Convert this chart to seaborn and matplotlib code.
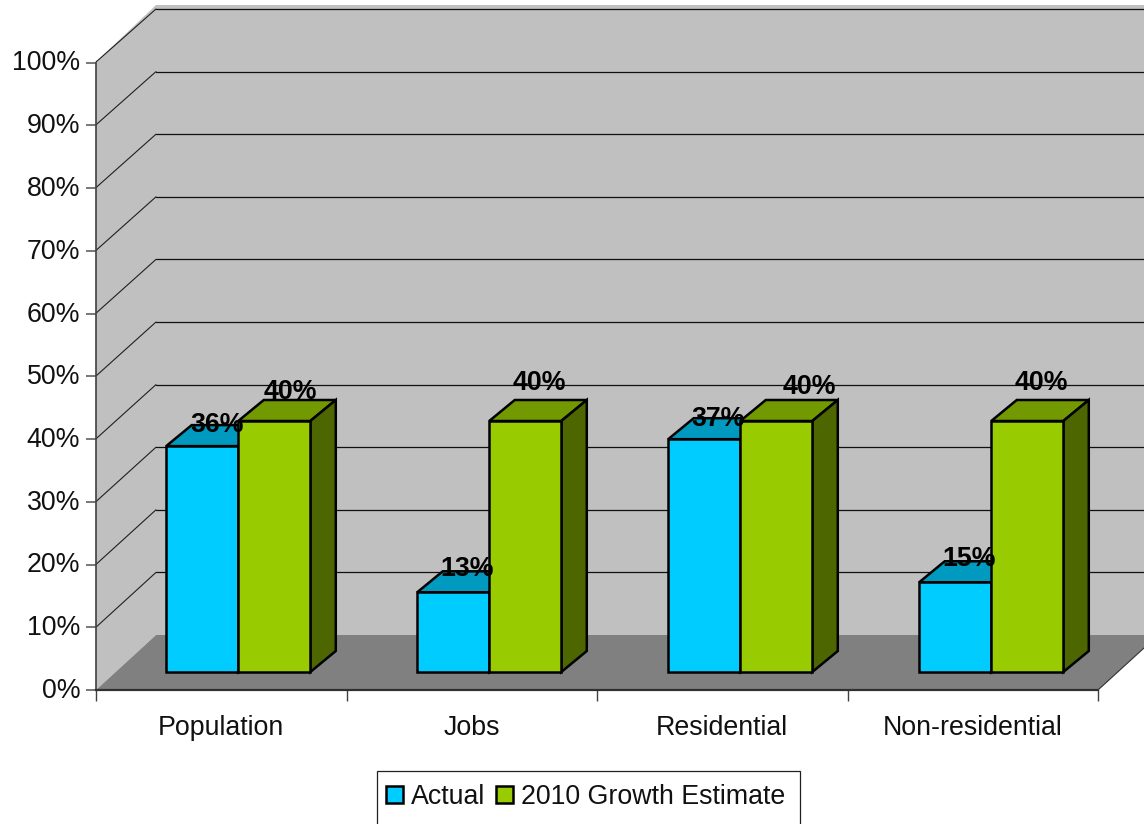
import matplotlib
matplotlib.use("Agg")
import matplotlib.pyplot as plt
import pandas as pd
import seaborn as sns
from matplotlib.patches import Patch, Polygon, Rectangle
from matplotlib.transforms import ScaledTranslation

# values
categories = ["Population", "Jobs", "Residential", "Non-residential"]
actual = [0.36, 0.127, 0.371, 0.143]
estimate = [0.40, 0.40, 0.40, 0.40]
actual_labels = ["36%", "13%", "37%", "15%"]
estimate_labels = ["40%", "40%", "40%", "40%"]
series_names = ["Actual", "2010 Growth Estimate"]
y_ticks = [0, 0.1, 0.2, 0.3, 0.4, 0.5, 0.6, 0.7, 0.8, 0.9, 1.0]
y_tick_labels = ["0%", "10%", "20%", "30%", "40%", "50%", "60%", "70%", "80%", "90%", "100%"]

W, H = 1144, 824
FONT = 19.3

# pixel offsets of the data labels from the bar top centre
actual_offsets = [(15, 21), (14, 23), (14, 20), (14, 23)]
estimate_offsets = [(16, 29), (14, 38), (33, 34), (14, 38)]

sns.set_theme(style="white")
plt.rcParams["font.family"] = ["Liberation Sans", "DejaVu Sans"]

df = pd.DataFrame({
    "category": categories * 2,
    "value": actual + estimate,
    "series": [series_names[0]] * 4 + [series_names[1]] * 4,
})

fig = plt.figure(figsize=(W / 100, H / 100), dpi=100)


def place(left, right, top, bottom, z):
    a = fig.add_axes([left / W, 1 - bottom / H, (right - left) / W, (bottom - top) / H])
    a.set_zorder(z)
    return a


# walls and floor, in pixels
bg = place(0, W, 0, H, 0)
bg.set_xlim(0, W)
bg.set_ylim(H, 0)
bg.axis("off")
bg.add_patch(Polygon([(156, 5), (W, 5), (W, 635), (156, 635)], fc="#c0c0c0", ec="none"))
bg.add_patch(Polygon([(96, 62), (156, 5), (156, 635), (96, 690)], fc="#c0c0c0", ec="none"))
bg.add_patch(Polygon([(96, 690), (1098, 690), (1158, 635), (156, 635)], fc="#808080", ec="none"))
bg.plot([1098, 1144], [690, 648], color="#303030", lw=0.8)
for v in y_ticks[1:]:
    back_y = 635 - 626 * v
    bg.plot([96, 156], [690 - 628 * v, back_y], color="#202020", lw=0.8)
    bg.plot([156, W], [back_y, back_y], color="#101010", lw=0.9)
bg.add_patch(Rectangle((377, 771), 423, 70, fc="white", ec="#202020", lw=0.9, clip_on=False))

# front plane, only the axes and their labels
front = place(96, 1098, 62.5, 690, 1)
front.patch.set_visible(False)
front.set_xlim(-0.5, 3.5)
front.set_ylim(0, 1)
front.set_yticks(y_ticks)
front.set_yticklabels(y_tick_labels, fontsize=FONT, color="#111111")
front.set_xticks(range(4))
front.set_xticklabels(categories, fontsize=FONT, color="#111111")
front.set_xticks([-0.5, 0.5, 1.5, 2.5, 3.5], minor=True)
front.tick_params(axis="x", which="major", length=0, pad=18)
front.tick_params(axis="x", which="minor", length=8, width=1, color="#404040", bottom=True)
front.tick_params(axis="y", length=7, width=1.2, color="#606060", left=True, pad=5)
for lab in front.get_yticklabels():
    lab.set_transform(lab.get_transform() + ScaledTranslation(1 / 100, 2 / 100, fig.dpi_scale_trans))
sns.despine(ax=front)
front.spines["left"].set_color("#404040")
front.spines["left"].set_linewidth(1.2)
front.spines["bottom"].set_color("#303030")
front.spines["bottom"].set_linewidth(1.6)

# bars stand on a plane further back than the axes
ax = place(112.75, 1116.75, 44.5, 672, 2)
sns.barplot(data=df, x="category", y="value", hue="series", order=categories,
            hue_order=series_names, palette=["#00ccff", "#99cc00"], saturation=1,
            width=0.574, gap=0, edgecolor="black", linewidth=1.8, legend=False, ax=ax)
ax.set_xlim(-0.5, 3.5)
ax.set_ylim(0, 1)
ax.axis("off")

dx = 25.5 / 251
dy = 21 / 627.5
bars = list(ax.patches)[:8]
tops = ["#0099bf"] * 4 + ["#739900"] * 4
sides = ["#007399"] * 4 + ["#4d6600"] * 4
for bar, top_c, side_c in zip(bars, tops, sides):
    x, w, h = bar.get_x(), bar.get_width(), bar.get_height()
    ax.add_patch(Polygon([(x, h), (x + w, h), (x + w + dx, h + dy), (x + dx, h + dy)],
                         fc=top_c, ec="black", lw=1.8, zorder=1, clip_on=False))
    ax.add_patch(Polygon([(x + w, 0), (x + w + dx, dy), (x + w + dx, h + dy), (x + w, h)],
                         fc=side_c, ec="black", lw=1.8, zorder=1, clip_on=False))
    bar.set_zorder(3)
    bar.set_clip_on(False)

labels = actual_labels + estimate_labels
offsets = actual_offsets + estimate_offsets
for bar, text, off in zip(bars, labels, offsets):
    ax.annotate(text, (bar.get_x() + bar.get_width() / 2, bar.get_height()), xytext=off,
                textcoords="offset pixels", ha="center", va="center", fontsize=FONT,
                fontweight="bold", color="black", zorder=5, annotation_clip=False)

handles = [Patch(fc="#00ccff", ec="black", lw=1.8), Patch(fc="#99cc00", ec="black", lw=1.8)]
leg = fig.legend(handles, series_names, ncol=2, loc="center left",
                 bbox_to_anchor=(386 / W, 1 - 797 / H), frameon=False, fontsize=FONT,
                 labelcolor="#111111", handlelength=0.63, handleheight=0.63,
                 handletextpad=0.3, columnspacing=0.4,
                 borderpad=0, borderaxespad=0, labelspacing=0)

fig.savefig("out.png", dpi=100, facecolor="white")
